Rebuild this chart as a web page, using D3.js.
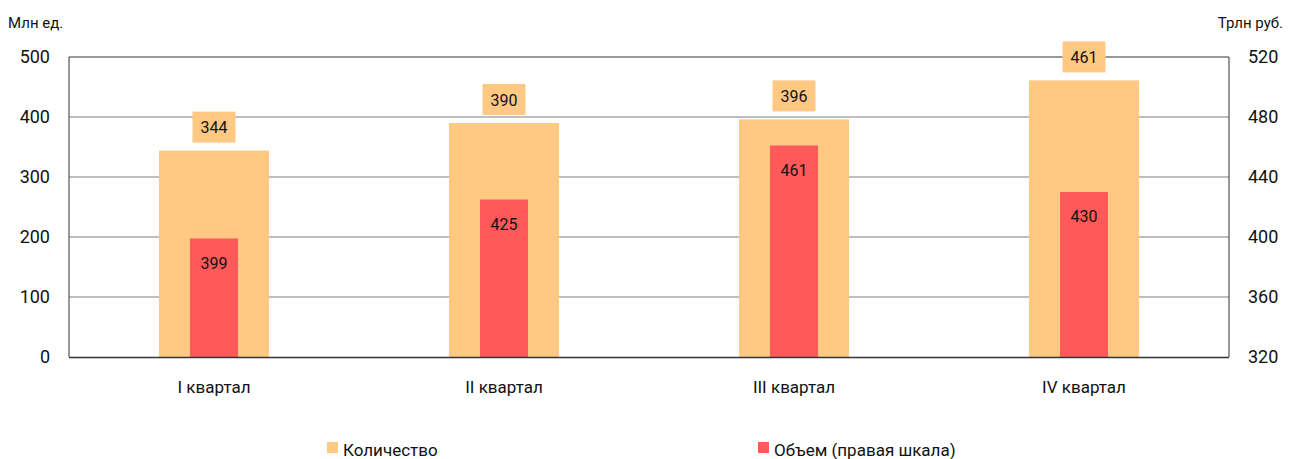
<html>
<head>
<meta charset="utf-8">
<title>Количество и объем</title>
<script src="https://d3js.org/d3.v7.min.js"></script>
</head>
<style>
  body { margin: 0; background: #fff; }
  text { font-family: Roboto, "Open Sans", sans-serif; fill: #111; }
</style>
<body>

<svg id="chart_svg" width="1290" height="459"></svg>

<script>
// data
var quarters = ["I квартал", "II квартал", "III квартал", "IV квартал"];
var countValues = [344, 390, 396, 461];   // Млн ед., left scale
var volumeValues = [399, 425, 461, 430];  // Трлн руб., right scale
var leftTicks = [0, 100, 200, 300, 400, 500];
var rightTicks = [320, 360, 400, 440, 480, 520];

var orange = "#FFC983";
var red = "#FF5A59";

var svg = d3.select("#chart_svg");
var plotL = 69, plotR = 1229, plotT = 57, plotB = 357;

var x = d3.scaleBand().domain(quarters).range([plotL, plotR]);
var yLeft = d3.scaleLinear().domain([0, 500]).range([plotB, plotT]);
var yRight = d3.scaleLinear().domain([320, 520]).range([plotB, plotT]);

// gridlines
svg.selectAll("line.grid")
  .data(leftTicks.filter(function (d) { return d > 0 && d < 500; }))
  .enter().append("line")
  .attr("class", "grid")
  .attr("x1", plotL).attr("x2", plotR)
  .attr("y1", function (d) { return yLeft(d); })
  .attr("y2", function (d) { return yLeft(d); })
  .attr("stroke", "#7f7f7f").attr("stroke-width", 1);

// frame: left, top, right
svg.append("path")
  .attr("d", "M" + plotL + "," + plotB + "V" + plotT + "H" + plotR + "V" + plotB)
  .attr("fill", "none").attr("stroke", "#333").attr("stroke-width", 1);

// orange bars (count)
var bigW = 110, smallW = 48;
svg.selectAll("rect.count")
  .data(countValues)
  .enter().append("rect")
  .attr("class", "count")
  .attr("x", function (d, i) { return x(quarters[i]) + x.bandwidth() / 2 - bigW / 2; })
  .attr("y", function (d) { return yLeft(d); })
  .attr("width", bigW)
  .attr("height", function (d) { return plotB - yLeft(d); })
  .attr("fill", orange);

// red bars (volume)
svg.selectAll("rect.volume")
  .data(volumeValues)
  .enter().append("rect")
  .attr("class", "volume")
  .attr("x", function (d, i) { return x(quarters[i]) + x.bandwidth() / 2 - smallW / 2; })
  .attr("y", function (d) { return yRight(d); })
  .attr("width", smallW)
  .attr("height", function (d) { return plotB - yRight(d); })
  .attr("fill", red);

// bottom axis line
svg.append("line")
  .attr("x1", plotL).attr("x2", plotR)
  .attr("y1", plotB + 0.5).attr("y2", plotB + 0.5)
  .attr("stroke", "#333").attr("stroke-width", 1.5);

// count labels in boxes
var labW = 43, labH = 31;
svg.selectAll("rect.countLab")
  .data(countValues)
  .enter().append("rect")
  .attr("class", "countLab")
  .attr("x", function (d, i) { return x(quarters[i]) + x.bandwidth() / 2 - labW / 2; })
  .attr("y", function (d) { return yLeft(d) - 8 - labH; })
  .attr("width", labW).attr("height", labH)
  .attr("fill", orange);

svg.selectAll("text.countLab")
  .data(countValues)
  .enter().append("text")
  .attr("class", "countLab")
  .attr("x", function (d, i) { return x(quarters[i]) + x.bandwidth() / 2; })
  .attr("y", function (d) { return yLeft(d) - 8 - labH / 2 + 6; })
  .attr("text-anchor", "middle")
  .attr("font-size", 16)
  .text(function (d) { return d; });

svg.selectAll("text.volLab")
  .data(volumeValues)
  .enter().append("text")
  .attr("class", "volLab")
  .attr("x", function (d, i) { return x(quarters[i]) + x.bandwidth() / 2; })
  .attr("y", function (d) { return yRight(d) + 30; })
  .attr("text-anchor", "middle")
  .attr("font-size", 16)
  .text(function (d) { return d; });

// tick labels
svg.selectAll("text.lt")
  .data(leftTicks)
  .enter().append("text")
  .attr("class", "lt")
  .attr("x", 50)
  .attr("y", function (d) { return yLeft(d) + 6; })
  .attr("text-anchor", "end")
  .attr("font-size", 18)
  .text(function (d) { return d; });

svg.selectAll("text.rt")
  .data(rightTicks)
  .enter().append("text")
  .attr("class", "rt")
  .attr("x", 1248)
  .attr("y", function (d) { return yRight(d) + 6; })
  .attr("font-size", 18)
  .text(function (d) { return d; });

svg.selectAll("text.xl")
  .data(quarters)
  .enter().append("text")
  .attr("class", "xl")
  .attr("x", function (d) { return x(d) + x.bandwidth() / 2; })
  .attr("y", 393)
  .attr("text-anchor", "middle")
  .attr("font-size", 17)
  .text(function (d) { return d; });

// axis titles
svg.append("text").attr("x", 8).attr("y", 28).attr("font-size", 15).text("Млн ед.");
svg.append("text").attr("x", 1283).attr("y", 28).attr("font-size", 15)
  .attr("text-anchor", "end").text("Трлн руб.");

// legend
var legend = [
  { name: "Количество", color: orange, x: 327 },
  { name: "Объем (правая шкала)", color: red, x: 758 }
];
var lg = svg.selectAll("g.legend").data(legend).enter().append("g")
  .attr("class", "legend")
  .attr("transform", function (d) { return "translate(" + d.x + ",442)"; });
lg.append("rect").attr("width", 11).attr("height", 11).attr("fill", function (d) { return d.color; });
lg.append("text").attr("x", 16).attr("y", 14).attr("font-size", 17)
  .text(function (d) { return d.name; });
</script>

</body>
</html>
